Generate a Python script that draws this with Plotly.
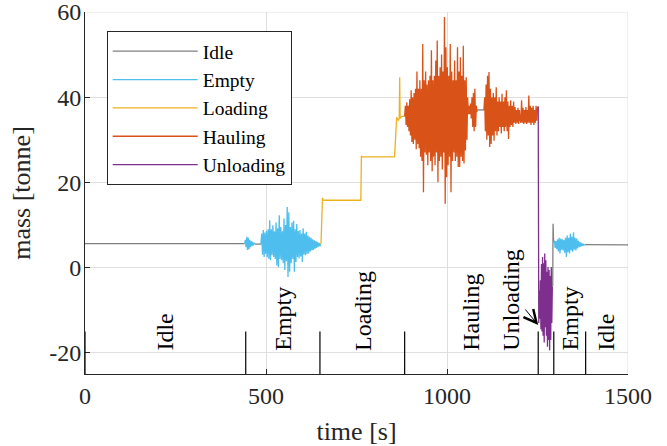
import numpy as np
import plotly.graph_objects as go

# ---------------- data ----------------
# Idle trace (None = gap)
idle_t = [0, 441, None, 469, 487, None, 1056, 1104, None, 1292, 1293, 1294.5, None, 1380.3, 1500]
idle_m = [5.6, 5.6, None, 5.5, 5.5, None, 37.0, 37.0, None, -4.5, 10.3, 5.8, None, 5.4, 5.3]

# Empty: small burst, big burst, second burst after unloading (uniformly sampled)
empty1_t0, empty1_dt = 441, 2.0
empty1_m = [5.6, 6.5, 4.8, 7.2, 4.1, 7.0, 4.3, 6.5, 4.8, 6.2, 5.0, 6.0, 5.2, 5.8, 5.5]

empty2_t0, empty2_dt = 486, 2.2
empty2_m = [5.5, 8.0, 3.0, 8.8, 2.5, 8.2, 3.2, 8.6, 2.4, 9.0,
            2.0, 11.1, 1.7, 9.0, 2.9, 9.9, 2.5, 8.5, 2.0, 10.6,
            0.5, 9.2, 0.1, 12.3, 2.0, 9.5, 1.7, 8.5, 1.0, 11.5,
            -0.6, 10.0, 1.5, 14.2, -2.2, 13.0, -1.0, 9.5, 1.0, 10.6,
            2.0, 11.0, -1.0, 9.0, 1.3, 10.2, 2.5, 8.6, 2.1, 8.8,
            2.6, 8.0, 1.3, 9.2, 3.0, 8.0, 2.9, 8.4, 3.2, 7.5,
            3.3, 7.2, 3.8, 7.0, 4.0, 6.6, 4.1, 6.4, 4.4, 6.2,
            4.6, 6.0, 4.9, 5.8, 5.0, 5.5]

empty3_t0, empty3_dt = 1294.5, 2.2
empty3_m = [5.8, 6.3, 4.6, 6.2, 4.3, 6.6, 3.8, 7.0, 3.3, 6.8,
            4.2, 6.6, 4.0, 6.5, 3.5, 7.0, 2.5, 7.5, 3.6, 7.0,
            3.3, 7.9, 4.0, 7.2, 3.7, 8.3, 4.2, 7.0, 4.0, 6.8,
            4.5, 6.3, 4.8, 6.0, 4.9, 5.8, 5.1, 5.6, 5.2, 5.4]

# Loading (step-wise)
loading_t = [651, 652, 656, 657.5, 660, 700, 762, 763.5, 766, 800,
             855, 857, 859, 861, 866, 868, 869.3, 870.5, 875, 883]
loading_m = [5.5, 5.8, 16.4, 15.9, 15.8, 15.8, 15.8, 26.2, 26.0, 26.0,
             26.0, 29.0, 33.0, 35.3, 34.5, 35.0, 44.7, 35.0, 35.5, 35.5]

# Hauling (uniformly sampled, two parts)
haul1_t0, haul1_dt = 883, 2.0
haul1_m = [35.5, 38.0, 33.5, 38.8, 33.0, 38.0, 32.0, 39.5, 31.0, 41.6,
           29.5, 40.0, 29.0, 41.0, 30.0, 42.0, 27.8, 46.0, 29.0, 42.0,
           28.0, 44.0, 26.0, 42.0, 25.0, 52.5, 17.7, 44.0, 27.0, 46.0,
           26.5, 43.0, 24.0, 44.0, 27.0, 45.0, 25.0, 51.0, 22.6, 44.0,
           26.0, 45.0, 24.0, 48.6, 27.0, 53.3, 20.0, 45.0, 25.0, 47.0,
           26.0, 50.0, 23.0, 46.0, 27.0, 58.8, 15.0, 51.7, 21.2, 47.0,
           24.0, 45.0, 26.0, 52.5, 17.7, 46.0, 25.0, 44.0, 27.0, 48.6,
           25.0, 44.0, 26.0, 51.7, 23.6, 46.0, 23.6, 49.4, 26.0, 45.0,
           25.0, 52.1, 24.4, 44.0, 27.5, 44.7, 30.0, 40.0, 36.0, 38.0,
           36.0, 38.5, 35.0, 40.0, 33.0, 41.0, 32.0, 42.0, 33.0, 38.0,
           36.5]

haul2_t0, haul2_dt = 1102, 2.0
haul2_m = [37.0, 40.0, 32.0, 43.0, 30.0, 45.0, 31.0, 45.9, 28.3, 42.0,
           29.0, 40.0, 31.0, 41.0, 29.8, 40.0, 32.0, 42.3, 31.0, 39.0,
           32.0, 40.0, 33.0, 39.0, 31.5, 40.8, 33.0, 39.0, 32.0, 40.0,
           33.0, 41.6, 32.0, 39.0, 30.2, 38.0, 33.0, 39.3, 33.5, 38.0,
           33.0, 39.0, 34.0, 37.7, 33.7, 37.0, 34.0, 37.5, 33.7, 37.0,
           34.5, 34.0, 39.3, 34.0, 37.5, 33.7, 37.0, 34.0, 37.7, 33.7,
           37.0, 34.0, 40.4, 34.0, 38.0, 33.5, 37.5, 34.0, 38.0, 33.5,
           37.0, 34.0, 38.0, 34.5, 37.5, 37.8]

# Unloading
unload_t0, unload_dt = 1252, 1.5
unload_m = [37.8, -13.0, -5.4, -12.0, -3.0, -14.5, 0.8, -15.0, 2.5, -16.0,
            1.0, -17.6, 3.3, -14.0, 1.7, -16.0, -1.0, -18.6, 0.1, -17.0,
            -0.6, -19.4, -2.0, -17.0, 0.1, -13.0, -4.5]

# Phase annotation
phase_bounds = [0, 444, 649, 883, 1252, 1295, 1383]
phase_labels = ["Idle", "Empty", "Loading", "Hauling", "Unloading", "Empty", "Idle"]
phase_label_t = [222, 547, 766, 1068, 1178, 1339, 1441]
phase_line_top, phase_label_base = -15, -20
arrow_tail = (1213, -9.5)
arrow_tip = (1252, -13.5)

x_range = [0, 1500]
y_range = [-25, 60]
x_ticks = [0, 500, 1000, 1500]
x_ticklabels = ["0", "500", "1000", "1500"]
y_ticks = [-20, 0, 20, 40, 60]
y_ticklabels = ["-20", "0", "20", "40", "60"]

# ---------------- helpers ----------------
def sampled(t0, dt, vals):
    return [t0 + dt * i for i in range(len(vals))], list(vals)

def join(*parts):
    xs, ys = [], []
    for i, (x, y) in enumerate(parts):
        if i:
            xs.append(None); ys.append(None)
        xs += list(x); ys += list(y)
    return xs, ys

empty_x, empty_y = join(sampled(empty1_t0, empty1_dt, empty1_m),
                        sampled(empty2_t0, empty2_dt, empty2_m),
                        sampled(empty3_t0, empty3_dt, empty3_m))
haul_x, haul_y = join(sampled(haul1_t0, haul1_dt, haul1_m),
                      sampled(haul2_t0, haul2_dt, haul2_m))
unl_x, unl_y = sampled(unload_t0, unload_dt, unload_m)

FONT = "Liberation Serif"
AXC = "#262626"
GRIDC = "#dfdfdf"
colors = {"Idle": "#808080", "Empty": "#4DBEEE", "Loading": "#EDB120",
          "Hauling": "#D95319", "Unloading": "#7E2F8E"}

fig = go.Figure()
series = [("Idle", idle_t, idle_m), ("Empty", empty_x, empty_y),
          ("Loading", loading_t, loading_m), ("Hauling", haul_x, haul_y),
          ("Unloading", unl_x, unl_y)]
for name, x, y in series:
    fig.add_trace(go.Scatter(x=x, y=y, mode="lines", name=name,
                             line=dict(color=colors[name], width=1.3),
                             connectgaps=False))

shapes = [
    # grid lines at the upper / right range ends (plotly omits them)
    dict(type="line", xref="paper", yref="y", x0=0, x1=1, y0=y_range[1], y1=y_range[1],
         line=dict(color=GRIDC, width=1), layer="below"),
    dict(type="line", xref="x", yref="paper", x0=x_range[1], x1=x_range[1], y0=0, y1=1,
         line=dict(color=GRIDC, width=1), layer="below"),
]
for b in phase_bounds:
    shapes.append(dict(type="line", xref="x", yref="y", x0=b, x1=b,
                       y0=phase_line_top, y1=y_range[0],
                       line=dict(color="black", width=1.2)))

annotations = []
for lab, t in zip(phase_labels, phase_label_t):
    annotations.append(dict(x=t, y=phase_label_base, xref="x", yref="y",
                            text=lab, showarrow=False, textangle=-90,
                            xanchor="center", yanchor="bottom",
                            font=dict(family=FONT, size=24, color="black")))
annotations.append(dict(x=arrow_tip[0], y=arrow_tip[1], ax=arrow_tail[0], ay=arrow_tail[1],
                        xref="x", yref="y", axref="x", ayref="y", text="",
                        showarrow=True, arrowhead=5, arrowsize=2.5, arrowwidth=1,
                        arrowcolor="black"))

axis_common = dict(showline=True, linecolor=AXC, linewidth=1,
                   ticks="inside", ticklen=5, tickcolor=AXC, tickwidth=1,
                   showgrid=True, gridcolor=GRIDC, gridwidth=1,
                   zeroline=False, mirror=False, automargin=False,
                   ticklabeloverflow="allow",
                   tickfont=dict(family=FONT, size=24, color=AXC))

fig.update_layout(
    width=667, height=446,
    margin=dict(l=85, r=39, t=12, b=72),
    paper_bgcolor="white", plot_bgcolor="white",
    font=dict(family=FONT, color=AXC),
    xaxis=dict(range=x_range, tickvals=x_ticks, ticktext=x_ticklabels,
               ticklabelstandoff=0,
               title=dict(text="time [s]", font=dict(family=FONT, size=26, color=AXC), standoff=15),
               **axis_common),
    yaxis=dict(range=y_range, tickvals=y_ticks, ticktext=y_ticklabels,
               ticklabelstandoff=-2,
               title=dict(text="mass [tonne]", font=dict(family=FONT, size=26, color=AXC), standoff=11),
               **axis_common),
    legend=dict(x=0.04, y=0.9475, xanchor="left", yanchor="top",
                bgcolor="white", bordercolor=AXC, borderwidth=1,
                font=dict(family=FONT, size=19.5, color="black"),
                itemwidth=85, tracegroupgap=0),
    shapes=shapes, annotations=annotations, showlegend=True,
)

# remove the default 8px page margin so the figure sits at the window's origin
fig.write_html("out.html",
               config={"displayModeBar": False},
               post_script="document.body.style.margin='0';document.body.style.overflow='hidden';")
